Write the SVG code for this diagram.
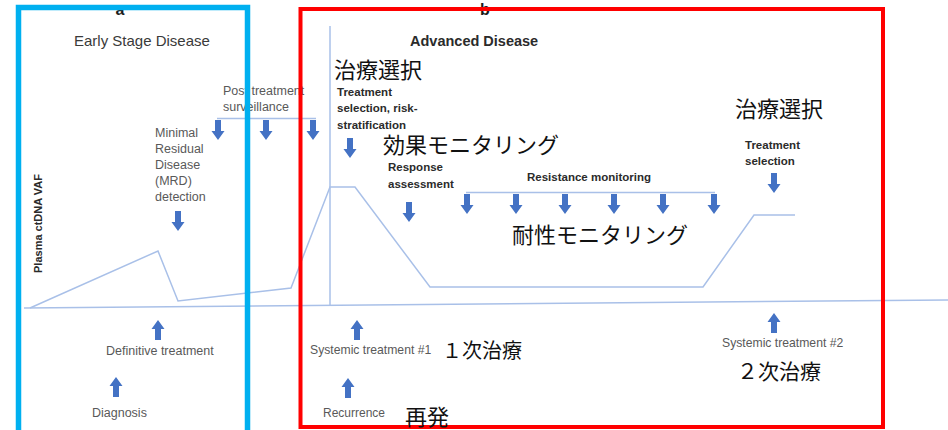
<svg xmlns="http://www.w3.org/2000/svg" xmlns:xlink="http://www.w3.org/1999/xlink" width="948" height="430" viewBox="0 0 948 430">
<style>
  .t { font-family: "Liberation Sans", Arial, sans-serif; font-size: 12.5px; fill: #595959; }
  .b { font-family: "Liberation Sans", Arial, sans-serif; font-size: 11.5px; font-weight: bold; fill: #2b2b2b; }
  .h { font-family: "Liberation Sans", Arial, sans-serif; font-size: 15px; fill: #3a3a3a; }
  .hb { font-family: "Liberation Sans", Arial, sans-serif; font-size: 14.5px; font-weight: bold; fill: #2b2b2b; }
  .pl { font-family: "Liberation Sans", Arial, sans-serif; font-size: 16px; font-weight: bold; fill: #1a1a1a; }
  .j { font-family: "Noto Sans CJK JP", "Noto Sans", sans-serif; font-size: 22px; fill: #111; }
  .ln { fill: none; stroke: #a9c0e8; stroke-width: 1.5; }
  .arr { fill: #4472c4; }
  .frame { fill: none; }
</style>
<defs>
  <path id="ad" d="M-3,0 H3 V11 H6.5 L0,20 L-6.5,11 H-3 Z"/>
  <path id="au" d="M-3,20 H3 V9 H6.5 L0,0 L-6.5,9 H-3 Z"/>
</defs>

<g id="panel-labels">
  <text class="pl" x="120" y="15" text-anchor="middle">a</text>
  <text class="pl" x="485" y="15" text-anchor="middle">b</text>
</g>

<g id="connectors">
  <line class="ln" x1="24" y1="308" x2="948" y2="300"/>
  <line class="ln" x1="330" y1="26" x2="330" y2="305"/>
  <polyline class="ln" points="30,308 158,251 178,301 291,288 330,187 355,187 430,287 703,287 754,215 795,215"/>
  <line class="ln" x1="217" y1="118.5" x2="316" y2="118.5"/>
  <line class="ln" x1="466" y1="192.5" x2="715" y2="192.5"/>
</g>

<g id="title-early">
  <text class="h" x="74" y="46">Early Stage Disease</text>
</g>
<g id="title-advanced">
  <text class="hb" x="410" y="46">Advanced Disease</text>
</g>

<g id="y-axis-label">
  <text class="b" transform="translate(42,273) rotate(-90)" style="font-size:11px">Plasma ctDNA VAF</text>
</g>

<g id="mrd">
  <text class="t" x="155" y="136.5">Minimal</text>
  <text class="t" x="155" y="152.5">Residual</text>
  <text class="t" x="155" y="168.5">Disease</text>
  <text class="t" x="155" y="184.5">(MRD)</text>
  <text class="t" x="155" y="200.5">detection</text>
  <use href="#ad" class="arr" x="178" y="211"/>
</g>

<g id="surveillance">
  <text class="t" x="223" y="94.5">Post treatment</text>
  <text class="t" x="223" y="110.5">surveillance</text>
  <use href="#ad" class="arr" x="218" y="120"/>
  <use href="#ad" class="arr" x="266" y="120"/>
  <use href="#ad" class="arr" x="313" y="120"/>
</g>

<g id="definitive">
  <use href="#au" class="arr" x="158" y="320"/>
  <text class="t" x="106" y="354.5">Definitive treatment</text>
</g>

<g id="diagnosis">
  <use href="#au" class="arr" x="116" y="377"/>
  <text class="t" x="92" y="417">Diagnosis</text>
</g>

<g id="treatment-selection-1">
  <text class="j" x="334" y="78">治療選択</text>
  <text class="b" x="337" y="96">Treatment</text>
  <text class="b" x="337" y="112">selection, risk-</text>
  <text class="b" x="337" y="128.5">stratification</text>
  <use href="#ad" class="arr" x="350" y="138"/>
</g>

<g id="response">
  <text class="j" x="383" y="152.5">効果モニタリング</text>
  <text class="b" x="388" y="171">Response</text>
  <text class="b" x="388" y="188">assessment</text>
  <use href="#ad" class="arr" x="409" y="202"/>
</g>

<g id="resistance">
  <text class="b" x="527" y="181">Resistance monitoring</text>
  <use href="#ad" class="arr" x="467" y="194"/>
  <use href="#ad" class="arr" x="516" y="194"/>
  <use href="#ad" class="arr" x="565" y="194"/>
  <use href="#ad" class="arr" x="614" y="194"/>
  <use href="#ad" class="arr" x="663" y="194"/>
  <use href="#ad" class="arr" x="714" y="194"/>
  <text class="j" x="512" y="243">耐性モニタリング</text>
</g>

<g id="treatment-selection-2">
  <text class="j" x="735" y="117">治療選択</text>
  <text class="b" x="745" y="149">Treatment</text>
  <text class="b" x="745" y="165">selection</text>
  <use href="#ad" class="arr" x="774" y="173"/>
</g>

<g id="systemic-1">
  <use href="#au" class="arr" x="357" y="320"/>
  <text class="t" x="310" y="354" style="font-size:12.2px">Systemic treatment #1</text>
  <text class="j" x="442" y="358" style="font-size:20px">１次治療</text>
</g>

<g id="recurrence">
  <use href="#au" class="arr" x="348" y="378"/>
  <text class="t" x="323" y="417" style="font-size:12px">Recurrence</text>
</g>

<g id="systemic-2">
  <use href="#au" class="arr" x="774" y="313"/>
  <text class="t" x="722" y="346.5" style="font-size:12.2px">Systemic treatment #2</text>
  <text class="j" x="737" y="379" style="font-size:21px">２次治療</text>
</g>

<g id="frames">
  <rect class="frame" x="18.5" y="7.5" width="229" height="440" stroke="#00b0f0" stroke-width="5.5"/>
  <rect class="frame" x="300.5" y="9" width="582.5" height="418" stroke="#ff0000" stroke-width="4"/>
</g>

<g id="recurrence-jp">
  <text class="j" x="405" y="424.5">再発</text>
</g>
</svg>
